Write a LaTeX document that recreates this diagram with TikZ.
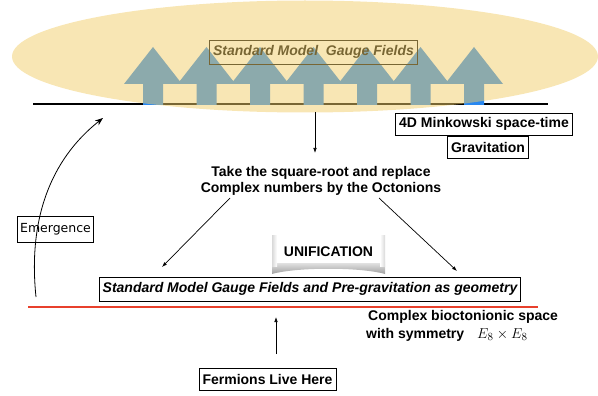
\documentclass[tikz,border=0pt]{standalone}
\usepackage{fontspec}
\setmainfont{Liberation Sans}
\newfontfamily\emfont{DejaVu Sans}
\usetikzlibrary{arrows.meta}
\definecolor{ellY}{RGB}{241,205,105}
\definecolor{arrB}{RGB}{40,135,240}
\definecolor{redL}{RGB}{232,64,44}
\begin{document}
\begin{tikzpicture}[x=1pt,y=-1pt,
  lbl/.style={draw=black, line width=0.8pt, inner xsep=3.5pt, inner ysep=0pt,
    minimum height=22pt, font=\fontsize{14}{17}\selectfont\bfseries},
  ilbl/.style={lbl, minimum height=24pt, font=\fontsize{14}{17}\selectfont\bfseries\itshape},
  txt/.style={inner sep=0pt, anchor=base, font=\fontsize{14}{17}\selectfont\bfseries},
  conn/.style={-{Latex[length=5pt,width=3.6pt]}, line width=0.7pt},
]
\useasboundingbox (0,0) rectangle (598,396);

% ground line of space-time
\draw[line width=1.6pt] (33,104) -- (548,104);

% fat gauge-field arrows
\foreach \c in {153,206.5,260,313.5,367,420.5,474}
  \fill[arrB] (\c-10,105) -- (\c-10,84) -- (\c-29,84) -- (\c,47)
              -- (\c+29,84) -- (\c+10,84) -- (\c+10,105) -- cycle;

\node[ilbl, inner xsep=4pt] (smg) at (313.5,52) {Standard Model\ \ Gauge Fields};

% translucent ellipse over everything above
\fill[ellY, fill opacity=0.5] (305,56.5) ellipse [x radius=293, y radius=56];

% labels at right
\node[lbl] (mink) at (484,124) {4D Minkowski space-time};
\node[lbl] (grav) at (488,147.5) {Gravitation};

% central text
\node[txt] (take1) at (321,176) {Take the square-root and replace};
\node[txt] (take2) at (321,193) {Complex numbers by the Octonions};

\coordinate (d0) at (315,112);
\coordinate (d1) at (315,153);
\draw[conn] (d0) -- (d1);

\coordinate (l0) at (230,198);
\coordinate (l1) at (162,267);
\draw[conn] (l0) -- (l1);
\coordinate (r0) at (379,198);
\coordinate (r1) at (457,271);
\draw[conn] (r0) -- (r1);

% Emergence
\node[draw=black, line width=0.8pt, inner xsep=3pt, inner ysep=0pt, minimum height=26pt,
      font=\emfont\fontsize{12.5}{15}\selectfont] (emer) at (55.5,229) {Emergence};
\coordinate (e0) at (36,297);
\coordinate (e1) at (103,118);
\draw[-{Stealth[length=8pt,width=6pt]}, line width=0.8pt] (e0) .. controls (28,220) and (50,160) .. (e1);

% UNIFICATION with curved shadow
\shade[top color=white, bottom color=gray!75] (272,258) -- (385,258) -- (385,274)
   .. controls (360,267) and (297,267) .. (272,274) -- cycle;
\fill[white] (272,235) rectangle (385,263);
\shade[left color=gray!30, right color=white] (272,235) rectangle (277,266);
\shade[left color=white, right color=gray!30] (380,235) rectangle (385,266);
\node[font=\fontsize{14}{17}\selectfont\bfseries, inner sep=0pt] (unif) at (328.5,252) {UNIFICATION};

% lower box
\node[ilbl] (sm2) at (310,289) {Standard Model Gauge Fields and Pre-gravitation as geometry};

\draw[redL, line width=2pt] (28,307) -- (538,307);

\node[txt, anchor=base west] (cplx1) at (368,320) {Complex bioctonionic space};
\node[txt, anchor=base west] (cplx2) at (366,338) {with symmetry};
\node[inner sep=0pt, anchor=base west, font=\fontsize{15}{18}\selectfont] (e8) at (477,338) {$E_8\times E_8$};

\coordinate (u0) at (276,354);
\coordinate (u1) at (276,317);
\draw[conn] (u0) -- (u1);

\node[lbl] (ferm) at (267.5,379) {Fermions Live Here};
\end{tikzpicture}
\end{document}
